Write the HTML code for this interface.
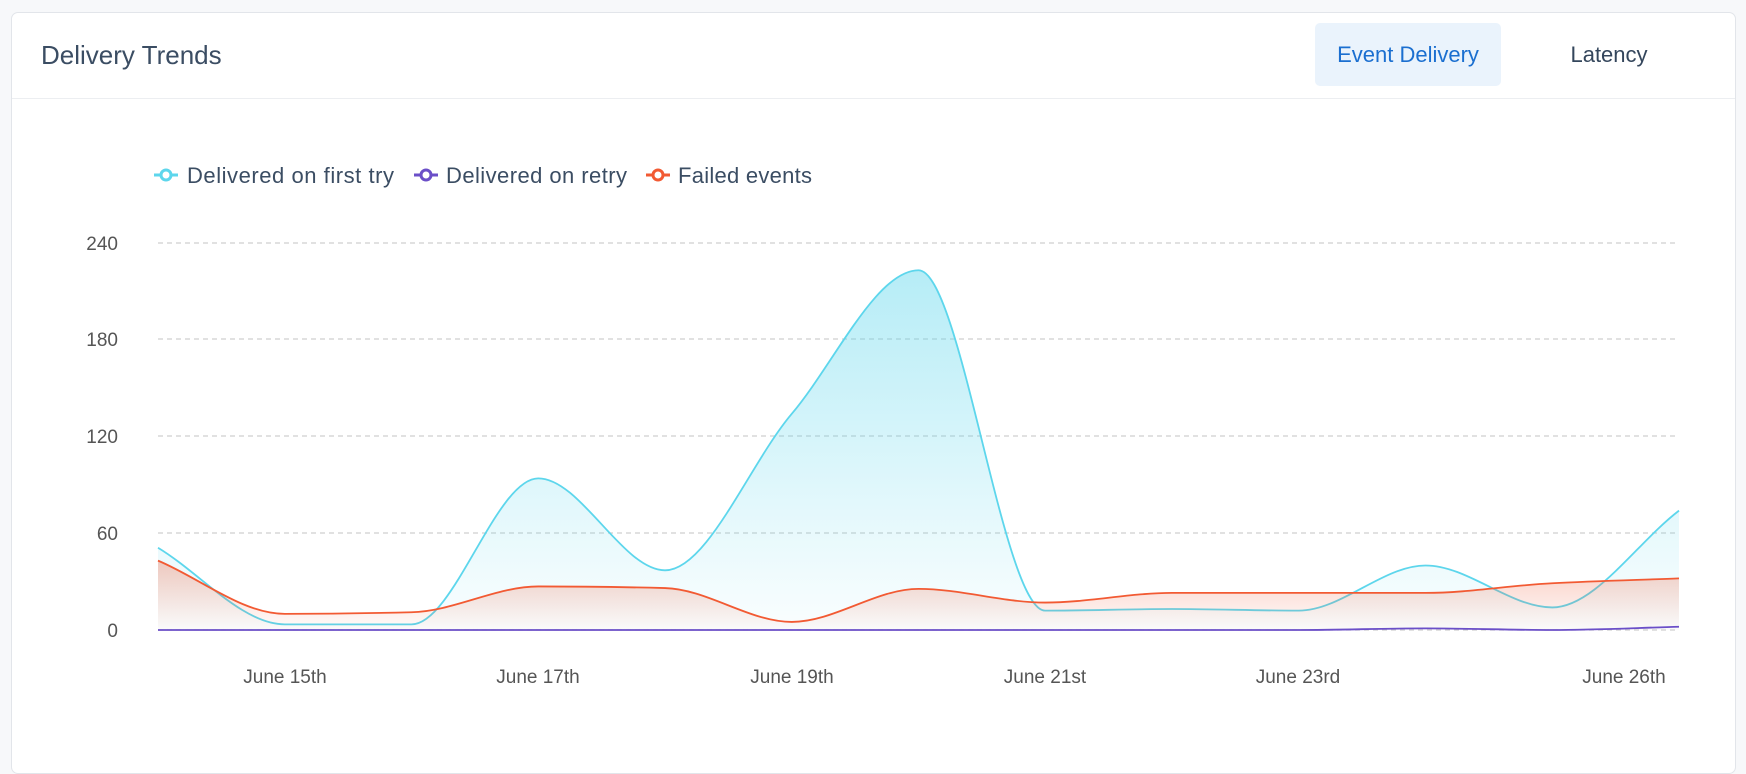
<!DOCTYPE html>
<html><head><meta charset="utf-8"><style>
body{margin:0;width:1746px;height:736px;background:#f7f8fa;overflow:hidden;font-family:"Liberation Sans",sans-serif}
.card{position:absolute;left:11px;top:12px;width:1723px;height:760px;background:#fff;border:1px solid #e2e5ea;border-radius:7px}
.hdr{position:absolute;left:0;top:0;right:0;height:85px;border-bottom:1px solid #eceef1}
.title{position:absolute;left:29px;top:27px;font-size:26px;color:#3b4d63}
.btn{position:absolute;top:10px;height:63px;line-height:63px;font-size:22px;text-align:center;border-radius:5px;color:#34465c}
</style></head><body>
<div class="card"><div class="hdr"><div class="title">Delivery Trends</div>
<div class="btn" style="left:1303px;width:186px;background:#eaf3fc;color:#1b6fd0">Event Delivery</div>
<div class="btn" style="left:1520px;width:154px">Latency</div></div></div>
<svg id="s" width="1746" height="736" style="position:absolute;left:0;top:0" font-family="Liberation Sans, sans-serif">
<defs>
<linearGradient id="gc" x1="0" y1="0" x2="0" y2="1"><stop offset="0" stop-color="#5dd6ec" stop-opacity="0.45"/><stop offset="1" stop-color="#5dd6ec" stop-opacity="0.03"/></linearGradient>
<linearGradient id="gr" x1="0" y1="0" x2="0" y2="1"><stop offset="0" stop-color="#f06a4a" stop-opacity="0.35"/><stop offset="1" stop-color="#f06a4a" stop-opacity="0.02"/></linearGradient>
</defs>
<g font-size="22" fill="#3b4d63">
<line x1="154" y1="175" x2="178" y2="175" stroke="#5dd6ec" stroke-width="3"/><circle cx="166" cy="175" r="5" fill="#fff" stroke="#5dd6ec" stroke-width="3"/><text x="187" y="183" textLength="207">Delivered on first try</text>
<line x1="414" y1="175" x2="438" y2="175" stroke="#6b4fc8" stroke-width="3"/><circle cx="426" cy="175" r="5" fill="#fff" stroke="#6b4fc8" stroke-width="3"/><text x="446" y="183" textLength="181">Delivered on retry</text>
<line x1="646" y1="175" x2="670" y2="175" stroke="#f25a33" stroke-width="3"/><circle cx="658" cy="175" r="5" fill="#fff" stroke="#f25a33" stroke-width="3"/><text x="678" y="183" textLength="134">Failed events</text>
</g>
<g stroke="#cfcfcf" stroke-width="1.3" stroke-dasharray="5,4">
<line x1="158" y1="243" x2="1679" y2="243"/><line x1="158" y1="339" x2="1679" y2="339"/><line x1="158" y1="436" x2="1679" y2="436"/><line x1="158" y1="533" x2="1679" y2="533"/><line x1="158" y1="630" x2="1679" y2="630"/>
</g>
<g font-size="19" fill="#555" text-anchor="end">
<text x="118" y="250">240</text><text x="118" y="346">180</text><text x="118" y="443">120</text><text x="118" y="540">60</text><text x="118" y="637">0</text>
</g>
<g font-size="19" fill="#555" text-anchor="middle">
<text x="285" y="683">June 15th</text><text x="538" y="683">June 17th</text><text x="792" y="683">June 19th</text><text x="1045" y="683">June 21st</text><text x="1298" y="683">June 23rd</text><text x="1624" y="683">June 26th</text>
</g>
<g id="g"></g>
</svg>
<script>
var x0=158,st=126.75,y0=630,k=96.8/60;
function mono(v){var n=v.length,xs=[],ys=[];for(var i=0;i<n;i++){xs.push(x0+i*st);ys.push(y0-v[i]*k);}
var d=[],m=[];for(i=0;i<n-1;i++)d.push((ys[i+1]-ys[i])/st);
m[0]=d[0];m[n-1]=d[n-2];for(i=1;i<n-1;i++){if(d[i-1]*d[i]<=0)m[i]=0;else m[i]=2/(1/d[i-1]+1/d[i]);}
for(i=0;i<n-1;i++){var a=d[i];if(a==0){m[i]=0;m[i+1]=0;}}
var p="M"+xs[0]+","+ys[0];for(i=0;i<n-1;i++){var h=st/3;p+="C"+(xs[i]+h)+","+(ys[i]+m[i]*h)+" "+(xs[i+1]-h)+","+(ys[i+1]-m[i+1]*h)+" "+xs[i+1]+","+ys[i+1];}
return{p:p,e:xs[n-1]};}
var c=[51,3.5,3.5,94,37,134,223,12,13,12,40,14,74],r=[43,10,11,27,26,5,25.5,17,23,23,23,29,32],u=[0,0,0,0,0,0,0,0,0,0,1,0,2];
var g=document.getElementById('g'),h='';
[[c,'gc','#5dd6ec'],[r,'gr','#f25a33'],[u,'none','#6b4fc8']].forEach(function(s){var q=mono(s[0]);
if(s[1]!='none')h+='<path d="'+q.p+'L'+q.e+','+y0+'L'+x0+','+y0+'Z" fill="url(#'+s[1]+')"/>';
h+='<path d="'+q.p+'" fill="none" stroke="'+s[2]+'" stroke-width="1.8"/>';});
g.innerHTML=h;
</script>
</body></html>
